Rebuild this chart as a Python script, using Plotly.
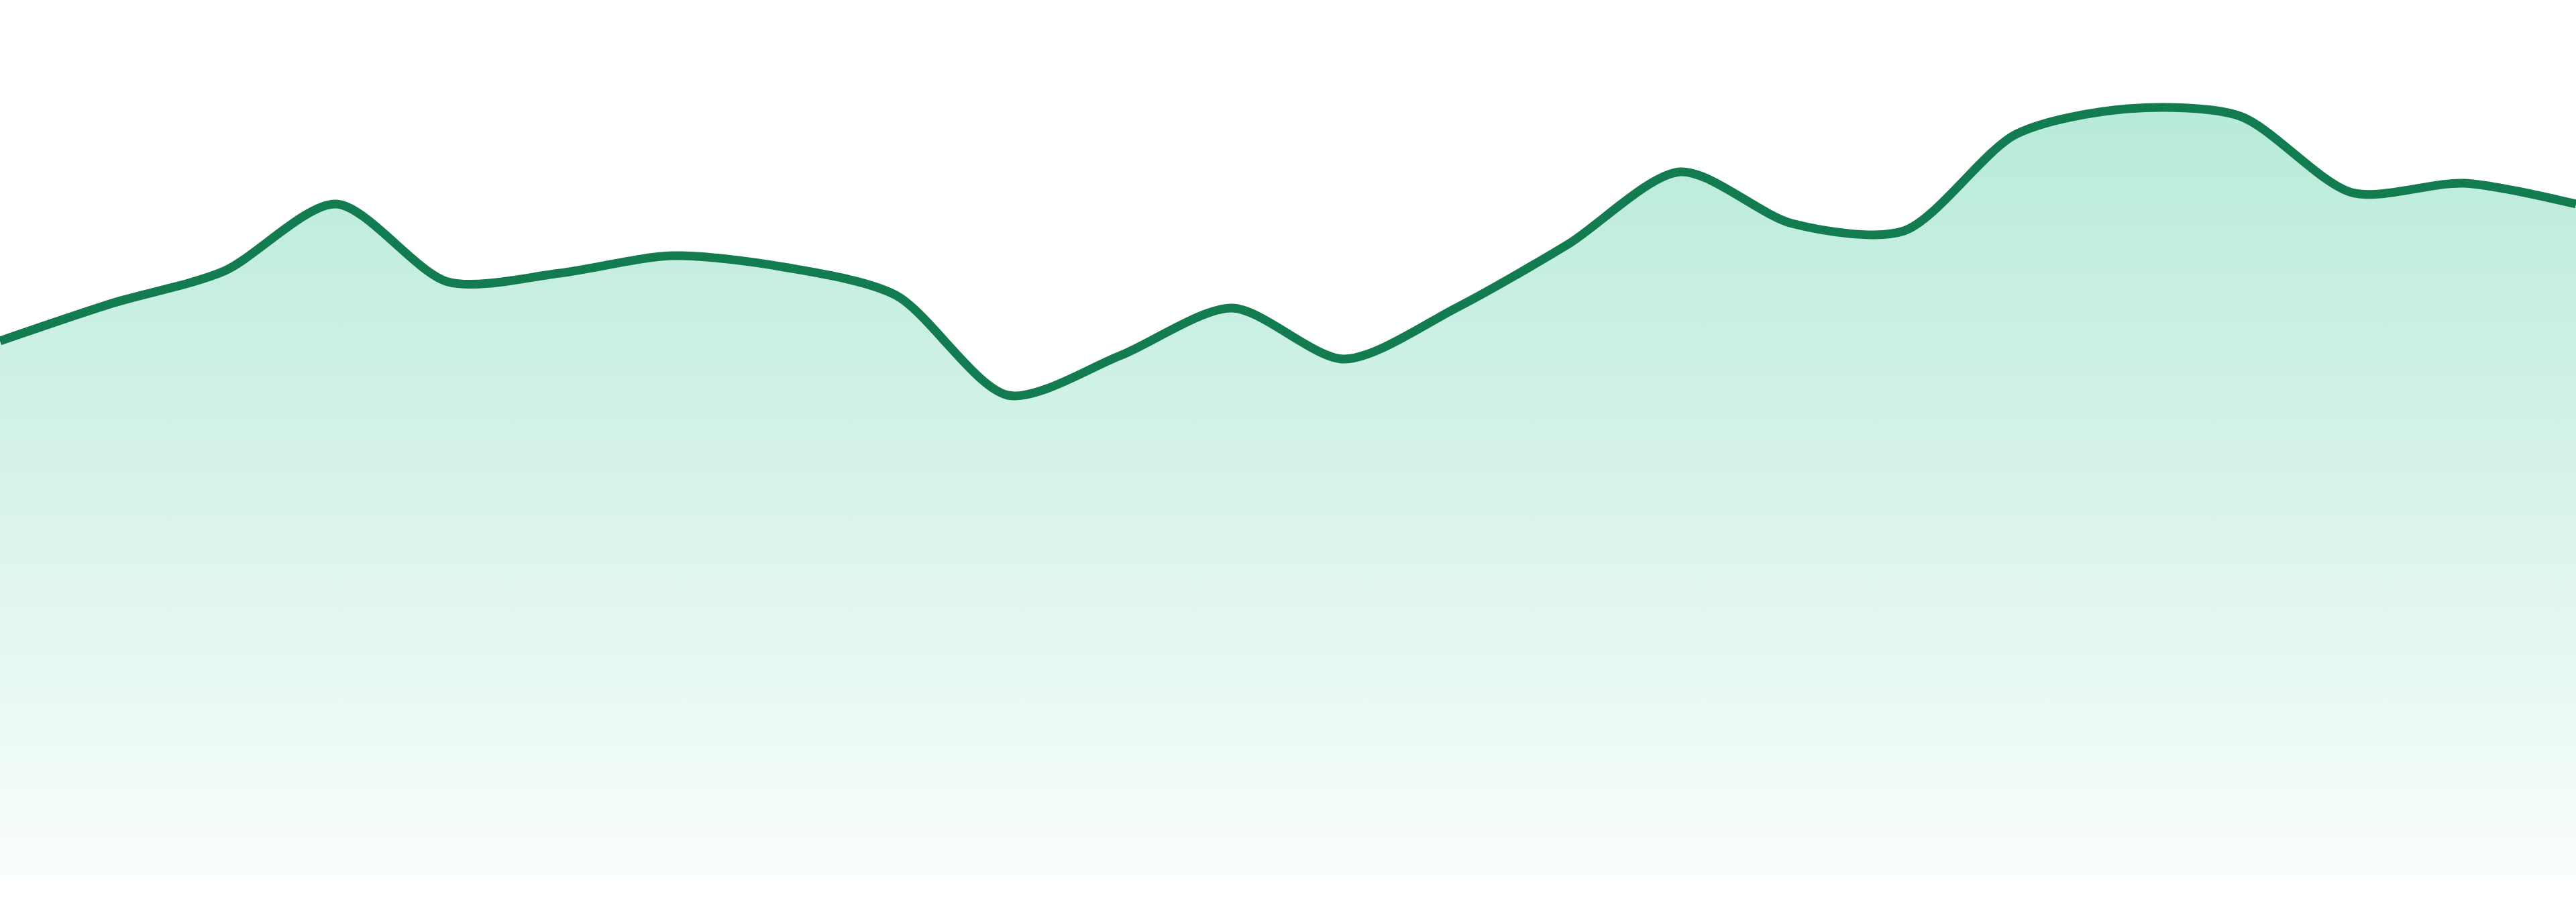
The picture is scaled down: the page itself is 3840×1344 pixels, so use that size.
import plotly.graph_objects as go

# sample index along x (24 evenly spaced points)
x_idx = list(range(24))

# series values (baseline 0 sits at the bottom of the fill)
values = [79.7, 85.3, 90.1, 100.1, 88.5, 89.8, 92.4, 90.7, 86.5, 71.6, 77.5, 84.6,
          77.0, 84.6, 94.1, 104.9, 97.2, 96.1, 110.5, 114.3, 113.2, 101.8, 103.2, 100.1]

line_color = '#137b50'

fig = go.Figure()

fig.add_trace(go.Scatter(
    x=x_idx,
    y=values,
    mode='lines',
    line=dict(color=line_color, width=13, shape='spline', smoothing=0.8),
    fill='tozeroy',
    fillgradient=dict(
        type='vertical',
        start=0,
        stop=max(values),
        colorscale=[[0, 'rgba(16,185,129,0.03)'], [1, 'rgba(16,185,129,0.30)']],
    ),
    hoverinfo='skip',
    showlegend=False,
))

fig.update_layout(
    margin=dict(l=0, r=0, t=0, b=0),
    paper_bgcolor='white',
    plot_bgcolor='white',
    showlegend=False,
    xaxis=dict(visible=False, range=[0, 23], fixedrange=True),
    yaxis=dict(visible=False, range=[-3.9, 130.5], fixedrange=True),
)

fig.write_html('out.html', config={'displayModeBar': False},
               post_script="document.body.style.margin='0';Plotly.Plots.resize(document.getElementById('{plot_id}'));")
